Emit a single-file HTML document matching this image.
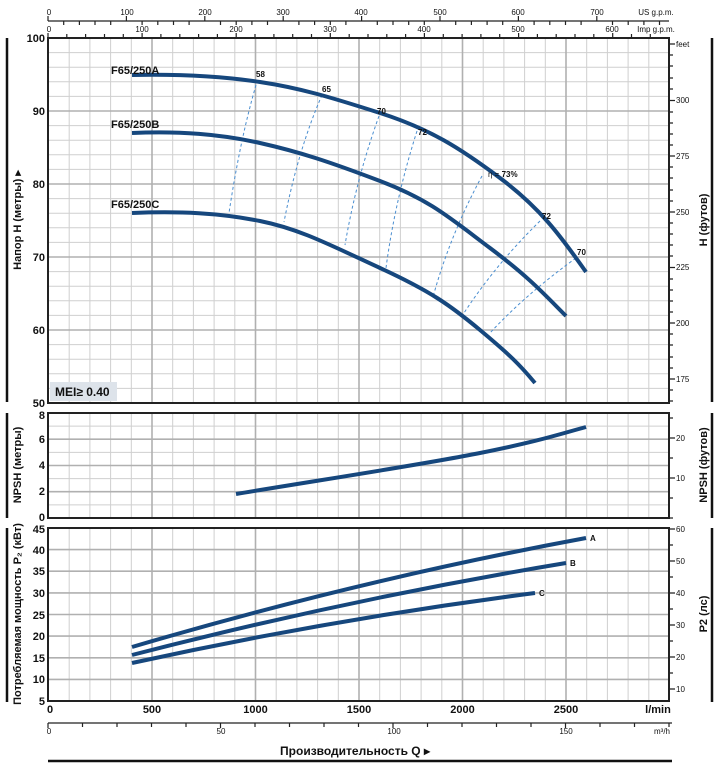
<!DOCTYPE html>
<html><head><meta charset="utf-8"><style>
html,body{margin:0;padding:0;background:#fff}
svg{display:block}
text{font-family:"Liberation Sans",sans-serif;fill:#111}
</style></head><body>
<svg width="724" height="769" viewBox="0 0 724 769" xmlns="http://www.w3.org/2000/svg">
<g id="grid" fill="none">
<g stroke="#cfcfcf" stroke-width="1">
<path d="M69.2 38V403M89.9 38V403M110.6 38V403M131.3 38V403M172.7 38V403M193.4 38V403M214.1 38V403M234.8 38V403M276.2 38V403M296.9 38V403M317.6 38V403M338.3 38V403M379.7 38V403M400.4 38V403M421.1 38V403M441.8 38V403M483.2 38V403M503.9 38V403M524.6 38V403M545.3 38V403M586.7 38V403M607.4 38V403M628.1 38V403M648.8 38V403"/>
<path d="M69.2 413V518M89.9 413V518M110.6 413V518M131.3 413V518M172.7 413V518M193.4 413V518M214.1 413V518M234.8 413V518M276.2 413V518M296.9 413V518M317.6 413V518M338.3 413V518M379.7 413V518M400.4 413V518M421.1 413V518M441.8 413V518M483.2 413V518M503.9 413V518M524.6 413V518M545.3 413V518M586.7 413V518M607.4 413V518M628.1 413V518M648.8 413V518"/>
<path d="M69.2 528V701M89.9 528V701M110.6 528V701M131.3 528V701M172.7 528V701M193.4 528V701M214.1 528V701M234.8 528V701M276.2 528V701M296.9 528V701M317.6 528V701M338.3 528V701M379.7 528V701M400.4 528V701M421.1 528V701M441.8 528V701M483.2 528V701M503.9 528V701M524.6 528V701M545.3 528V701M586.7 528V701M607.4 528V701M628.1 528V701M648.8 528V701"/>
<path d="M48 52.6H669M48 67.2H669M48 81.8H669M48 96.4H669M48 125.6H669M48 140.2H669M48 154.8H669M48 169.4H669M48 198.6H669M48 213.2H669M48 227.8H669M48 242.4H669M48 271.6H669M48 286.2H669M48 300.8H669M48 315.4H669M48 344.6H669M48 359.2H669M48 373.8H669M48 388.4H669"/>
<path d="M48 426.1H669M48 452.4H669M48 478.6H669M48 504.9H669"/>
</g>
<g stroke="#b0b0b0" stroke-width="1.6">
<path d="M152 38V403M255.5 38V403M359 38V403M462.5 38V403M566 38V403"/>
<path d="M152 413V518M255.5 413V518M359 413V518M462.5 413V518M566 413V518"/>
<path d="M152 528V701M255.5 528V701M359 528V701M462.5 528V701M566 528V701"/>
<path d="M48 111H669M48 184H669M48 257H669M48 330H669"/>
<path d="M48 439.2H669M48 465.5H669M48 491.7H669"/>
<path d="M48 549.6H669M48 571.2H669M48 592.9H669M48 614.5H669M48 636.1H669M48 657.8H669M48 679.4H669"/>
</g>
</g>
<g fill="none" stroke="#222" stroke-width="2">
<rect x="48" y="38" width="621" height="365"/>
<rect x="48" y="413" width="621" height="105"/>
<rect x="48" y="528" width="621" height="173"/>
</g>
<g stroke="#222" stroke-width="1.2" fill="none">
<path d="M48 21H669"/>
<path d="M48 21v-5M63.7 21v4M79.4 21v4M95 21v4M110.7 21v4M126.4 21v-5M142.1 21v4M157.8 21v4M173.5 21v4M189.1 21v4M204.8 21v-5M220.5 21v4M236.2 21v4M251.9 21v4M267.5 21v4M283.2 21v-5M298.9 21v4M314.6 21v4M330.3 21v4M345.9 21v4M361.6 21v-5M377.3 21v4M393 21v4M408.7 21v4M424.3 21v4M440 21v-5M455.7 21v4M471.4 21v4M487.1 21v4M502.7 21v4M518.4 21v-5M534.1 21v4M549.8 21v4M565.5 21v4M581.1 21v4M596.8 21v-5M612.5 21v4M628.2 21v4M643.9 21v4M659.5 21v4"/>
<path d="M48 38v-5M66.8 38v-4M85.6 38v-4M104.5 38v-4M123.3 38v-4M142.1 38v-5M160.9 38v-4M179.8 38v-4M198.6 38v-4M217.4 38v-4M236.2 38v-5M255 38v-4M273.9 38v-4M292.7 38v-4M311.5 38v-4M330.3 38v-5M349.2 38v-4M368 38v-4M386.8 38v-4M405.6 38v-4M424.4 38v-5M443.3 38v-4M462.1 38v-4M480.9 38v-4M499.7 38v-4M518.6 38v-5M537.4 38v-4M556.2 38v-4M575 38v-4M593.8 38v-4M612.7 38v-5M631.5 38v-4M650.3 38v-4"/>
</g>
<g font-size="8" text-anchor="middle">
<text x="49" y="15">0</text><text x="127" y="15">100</text><text x="205" y="15">200</text><text x="283" y="15">300</text><text x="361" y="15">400</text><text x="440" y="15">500</text><text x="518" y="15">600</text><text x="597" y="15">700</text>
<text x="49" y="32">0</text><text x="142" y="32">100</text><text x="236" y="32">200</text><text x="330" y="32">300</text><text x="424" y="32">400</text><text x="518" y="32">500</text><text x="612" y="32">600</text>
<text x="656" y="15">US g.p.m.</text><text x="656" y="32">Imp g.p.m.</text>
</g>
<g font-size="11" text-anchor="end" font-weight="bold">
<text x="45" y="42">100</text><text x="45" y="115">90</text><text x="45" y="188">80</text><text x="45" y="261">70</text><text x="45" y="334">60</text><text x="45" y="407">50</text>
<text x="45" y="419">8</text><text x="45" y="443">6</text><text x="45" y="469">4</text><text x="45" y="495">2</text><text x="45" y="521">0</text>
<text x="45" y="533">45</text><text x="45" y="554">40</text><text x="45" y="575">35</text><text x="45" y="597">30</text><text x="45" y="619">25</text><text x="45" y="640">20</text><text x="45" y="662">15</text><text x="45" y="683">10</text><text x="45" y="705">5</text>
</g>
<g stroke="#222" stroke-width="1.2" fill="none">
<path d="M669 44h6M669 55h4M669 66h4M669 78h4M669 89h4M669 100.5h6M669 112h4M669 123h4M669 134h4M669 145h4M669 156h6M669 167h4M669 178h4M669 190h4M669 201h4M669 212h6M669 223h4M669 234h4M669 245h4M669 256h4M669 267.5h6M669 279h4M669 290h4M669 301h4M669 312h4M669 323h6M669 334h4M669 345h4M669 357h4M669 368h4M669 379h6M669 390h4M669 401h4"/>
<path d="M669 518h4M669 498h4M669 478h6M669 458h4M669 438h6M669 418h4"/>
<path d="M669 689h6M669 673h4M669 657h6M669 641h4M669 625h6M669 609h4M669 593h6M669 577h4M669 561h6M669 545h4M669 529h6"/>
</g>
<g font-size="8">
<text x="676" y="47">feet</text>
<text x="676" y="103">300</text><text x="676" y="159">275</text><text x="676" y="215">250</text><text x="676" y="270">225</text><text x="676" y="326">200</text><text x="676" y="382">175</text>
<text x="676" y="481">10</text><text x="676" y="441">20</text>
<text x="676" y="692">10</text><text x="676" y="660">20</text><text x="676" y="628">30</text><text x="676" y="596">40</text><text x="676" y="564">50</text><text x="676" y="532">60</text>
</g>
<g font-size="11" font-weight="bold" text-anchor="middle">
<text x="50" y="713">0</text><text x="152" y="713">500</text><text x="255.5" y="713">1000</text><text x="359" y="713">1500</text><text x="462.5" y="713">2000</text><text x="566" y="713">2500</text><text x="658" y="713">l/min</text>
</g>
<g stroke="#222" stroke-width="1.2" fill="none">
<path d="M48 723H672"/>
<path d="M48 723v5M82.5 723v4M117 723v4M151.5 723v4M186 723v4M220.5 723v5M255 723v4M289.5 723v4M324 723v4M358.5 723v4M393 723v5M427.5 723v4M462 723v4M496.5 723v4M531 723v4M565.5 723v5M600 723v4M634.5 723v4M669 723v4"/>
</g>
<g font-size="8" text-anchor="middle" fill="#333">
<text x="49" y="734">0</text><text x="221" y="734">50</text><text x="394" y="734">100</text><text x="566" y="734">150</text><text x="662" y="734">m³/h</text>
</g>
<text x="355" y="755" font-size="12" font-weight="bold" text-anchor="middle">Производительность Q ▸</text>
<path d="M48 761H672" stroke="#111" stroke-width="2.5"/>
<g stroke="#111" stroke-width="2.5">
<path d="M7 38V402M7 413V518M7 528V702M712 38V402M712 413V518M712 528V702"/>
</g>
<g font-size="11" font-weight="bold" text-anchor="middle">
<text transform="translate(21,220) rotate(-90)">Напор H (метры) ▸</text>
<text transform="translate(21,465) rotate(-90)">NPSH (метры)</text>
<text transform="translate(21,614) rotate(-90)">Потребляемая мощность P₂ (кВт)</text>
<text transform="translate(707,220) rotate(-90)">H (футов)</text>
<text transform="translate(707,465) rotate(-90)">NPSH (футов)</text>
<text transform="translate(707,614) rotate(-90)">P2 (лс)</text>
</g>
<rect x="50" y="382" width="67" height="19" fill="#dde3ea"/>
<text x="55" y="396" font-size="12" font-weight="bold">MEI≥ 0.40</text>
<g stroke="#4a8ed0" stroke-width="1" stroke-dasharray="3,2.5" fill="none">
<path d="M256 85Q240 140 229 213"/>
<path d="M322 95Q298 150 284 222"/>
<path d="M379 116Q356 180 345 245"/>
<path d="M417 131Q395 200 386 268"/>
<path d="M482 176Q450 235 433 297"/>
<path d="M540 221Q495 265 462 316"/>
<path d="M576 258Q525 295 490 333"/>
</g>
<g stroke="#16477d" stroke-width="4" fill="none">
<path d="M132 75C180 74 220 76 260 82S330 97 380 113S460 148 500 178S560 235 586 272"/>
<path d="M132 133C180 131 220 134 260 143S330 162 380 181S450 218 490 248S545 295 566 316"/>
<path d="M132 213C180 211 220 213 260 221S330 245 380 268S450 305 480 330S520 365 535 383"/>
<path d="M236 494C320 480 420 465 480 453S560 434 586 427"/>
<path d="M132 647Q359 580 586 538"/>
<path d="M132 655Q349 599 566 563"/>
<path d="M132 663Q333 619 535 593"/>
</g>
<g font-size="11" font-weight="bold">
<text x="111" y="74">F65/250A</text>
<text x="111" y="128">F65/250B</text>
<text x="111" y="208">F65/250C</text>
</g>
<g font-size="8" font-weight="bold">
<text x="256" y="77">58</text><text x="322" y="92">65</text><text x="377" y="114">70</text><text x="418" y="135">72</text>
<text x="488" y="177" font-weight="normal">η = <tspan font-weight="bold">73%</tspan></text>
<text x="542" y="219">72</text><text x="577" y="255">70</text>
<text x="590" y="541">A</text><text x="570" y="566">B</text><text x="539" y="596">C</text>
</g>
</svg>
</body></html>
